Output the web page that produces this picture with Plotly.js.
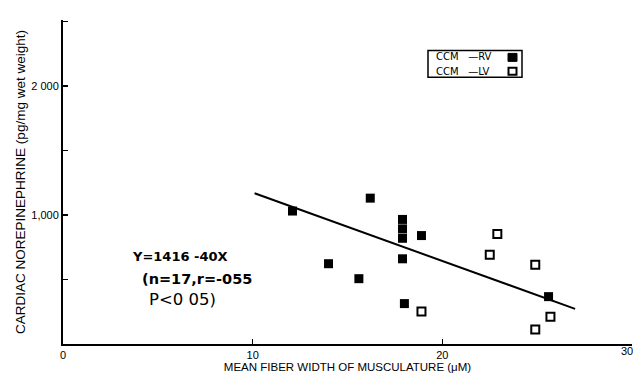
<!DOCTYPE html>
<html>
<head>
<meta charset="utf-8">
<script src="https://cdn.plot.ly/plotly-3.0.1.min.js"></script>
<style>html,body{margin:0;padding:0;background:#fff;}#chart{width:633px;height:375px;}</style>
</head>
<body>
<div id="chart"></div>
<script>
// RV (filled squares)
const rvX = [12.1, 16.2, 14.0, 15.6, 17.9, 17.9, 17.9, 18.9, 17.9, 18.0, 25.6];
const rvY = [1030, 1130, 622, 506, 965, 892, 819, 840, 660, 313, 367];
// LV (open squares)
const lvX = [18.9, 22.9, 22.5, 24.9, 25.7, 24.9];
const lvY = [251, 853, 691, 614, 212, 112];
// regression line end points as drawn
const lineX = [10.1, 27.0];
const lineY = [1168, 272];
// axis ticks
const xTickVals = [0, 10, 20, 30];
const xTickText = ["0", "10", "20", ""];
const yTickVals = [500, 1000, 1500, 2000, 2500];
const yTickText = ["", "1,000", "", "2 000", ""];

const F = "Liberation Sans, Arial, sans-serif";
const D = "DejaVu Sans, sans-serif";

const px = v => (v - 63) / 569;
const py = v => (344.5 - v) / 325;

const traces = [
  {x: lineX, y: lineY, mode: "lines", line: {color: "#000", width: 2}, hoverinfo: "skip", showlegend: false},
  {x: rvX, y: rvY, mode: "markers", marker: {symbol: "square", size: 9, color: "#000"}, showlegend: false},
  {x: lvX, y: lvY, mode: "markers", marker: {symbol: "square-open", size: 8, color: "#000", line: {width: 2, color: "#000"}}, showlegend: false}
];

const layout = {
  width: 633, height: 375,
  margin: {l: 63, r: 1, t: 19.5, b: 30.5},
  paper_bgcolor: "#fff", plot_bgcolor: "#fff",
  font: {family: F, color: "#000", size: 11},
  xaxis: {
    range: [0, 30], showgrid: false, zeroline: false,
    showline: true, linecolor: "#000", linewidth: 2,
    ticks: "inside", ticklen: 5, tickwidth: 1.5, tickcolor: "#000",
    tickvals: xTickVals, ticktext: xTickText,
    tickfont: {family: F, size: 11},
    title: {text: "MEAN FIBER WIDTH OF MUSCULATURE (μM)", font: {family: F, size: 11.5}, standoff: 0}
  },
  yaxis: {
    range: [0, 2510], showgrid: false, zeroline: false,
    showline: true, linecolor: "#000", linewidth: 2,
    ticks: "inside", ticklen: 5, tickwidth: 1.5, tickcolor: "#000",
    tickvals: yTickVals, ticktext: yTickText,
    tickfont: {family: F, size: 11},
    title: {text: "CARDIAC NOREPINEPHRINE (pg/mg wet weight)", font: {family: F, size: 13.5}, standoff: 3}
  },
  shapes: [
    {type: "rect", xref: "paper", yref: "paper", x0: px(428), x1: px(522), y0: py(77), y1: py(50), line: {color: "#000", width: 1.5}},
    {type: "rect", xref: "paper", yref: "paper", x0: px(508), x1: px(517), y0: py(61), y1: py(53), line: {color: "#000", width: 1}, fillcolor: "#000"},
    {type: "rect", xref: "paper", yref: "paper", x0: px(508.5), x1: px(516.5), y0: py(74.5), y1: py(67.5), line: {color: "#000", width: 2}}
  ],
  annotations: [
    {xref: "paper", yref: "paper", x: px(434), y: py(56.5), xanchor: "left", yanchor: "middle",
     text: "CCM   —RV", showarrow: false, font: {family: D, size: 10}},
    {xref: "paper", yref: "paper", x: px(434), y: py(71), xanchor: "left", yanchor: "middle",
     text: "CCM   —LV", showarrow: false, font: {family: D, size: 10}},
    {xref: "paper", yref: "paper", x: px(130), y: py(257), xanchor: "left", yanchor: "middle",
     text: "<b>Y=1416 -40X</b>", showarrow: false, font: {family: D, size: 13}},
    {xref: "paper", yref: "paper", x: px(140), y: py(279), xanchor: "left", yanchor: "middle",
     text: "<b>(n=17,r=-055</b>", showarrow: false, font: {family: D, size: 14.5}},
    {xref: "paper", yref: "paper", x: px(147), y: py(300), xanchor: "left", yanchor: "middle",
     text: "P&lt;0 05)", showarrow: false, font: {family: D, size: 16.5}},
    {xref: "paper", yref: "paper", x: px(627), y: py(352), xanchor: "center", yanchor: "middle",
     text: "30", showarrow: false, font: {family: F, size: 11}}
  ]
};

Plotly.newPlot("chart", traces, layout, {displayModeBar: false, staticPlot: true});
</script>
</body>
</html>
